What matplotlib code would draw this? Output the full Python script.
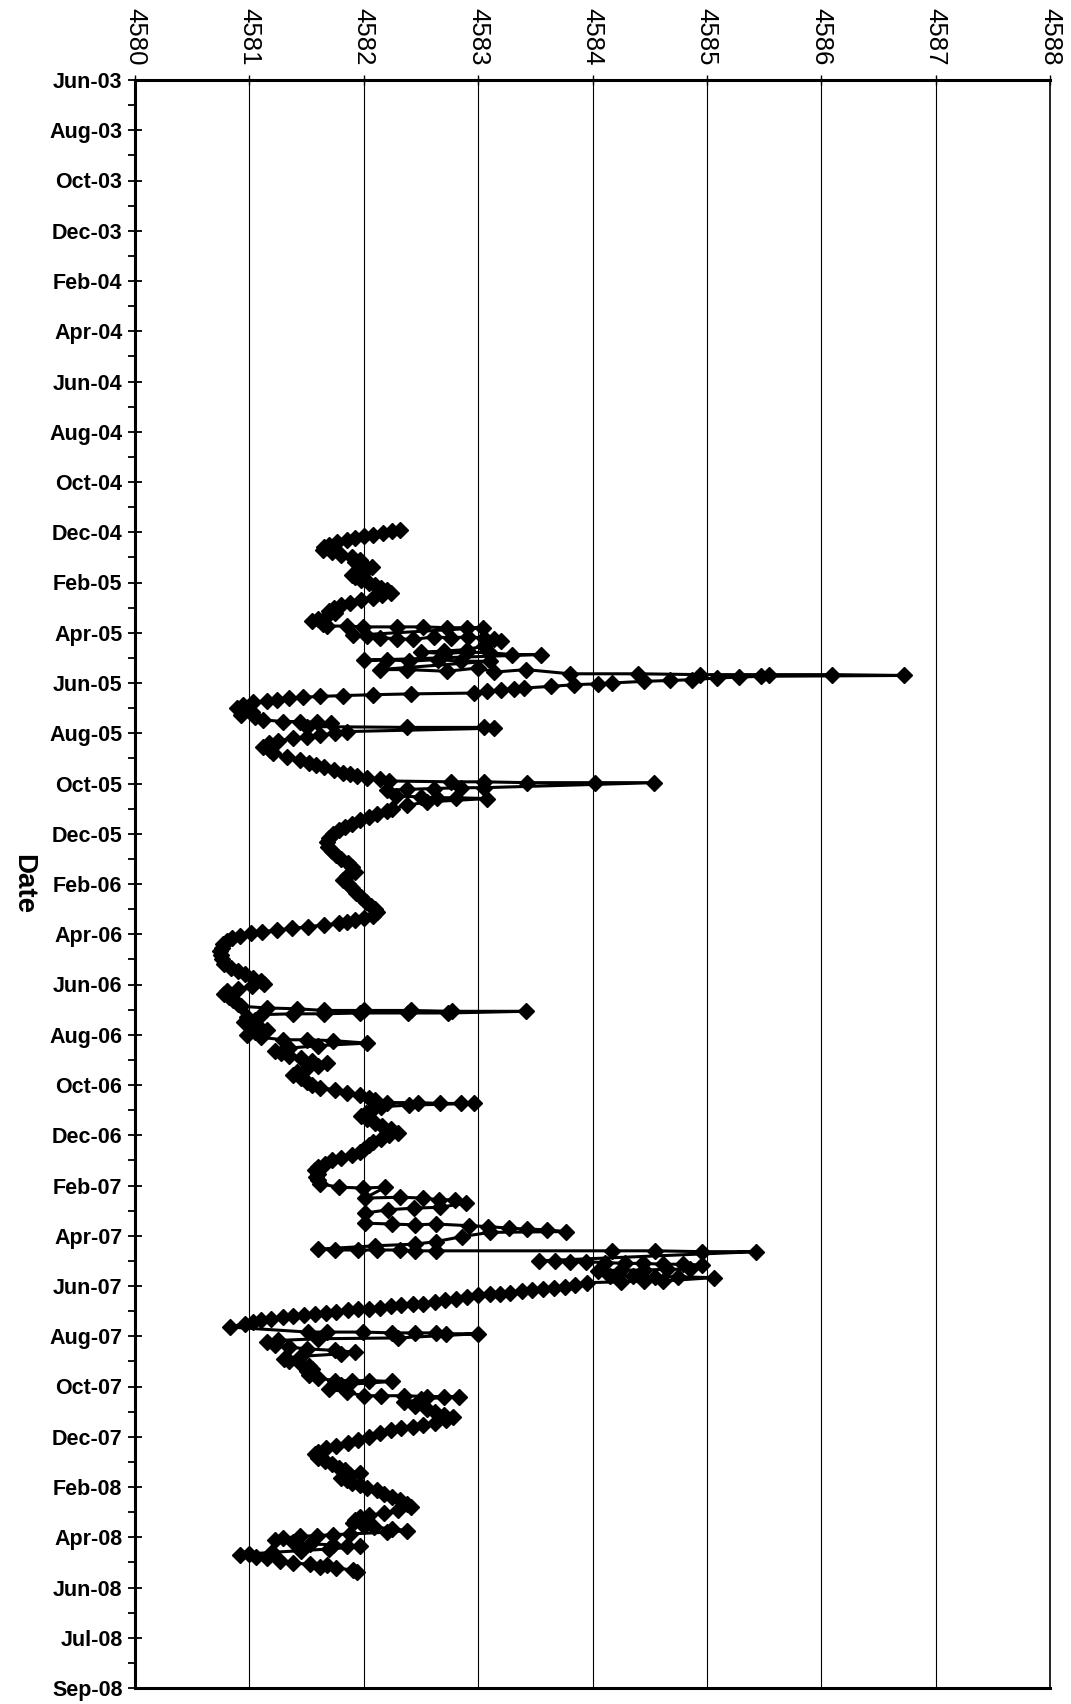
import matplotlib
matplotlib.use("Agg")
import matplotlib.pyplot as plt
import matplotlib.dates as mdates
import numpy as np
import pandas as pd

plt.rcParams['font.family'] = ['Liberation Sans', 'DejaVu Sans']

# readings as (Excel serial date, level)
winter_2005 = [
    (38337, 4582.32), (38339, 4582.25), (38341, 4582.17), (38343, 4582.08), (38345, 4582.00),
    (38347, 4581.92), (38349, 4581.85), (38352, 4581.77), (38355, 4581.70), (38358, 4581.65),
    (38361, 4581.64), (38364, 4581.72), (38367, 4581.80), (38370, 4581.90), (38373, 4581.97),
    (38376, 4581.92), (38379, 4582.00), (38382, 4582.07), (38385, 4582.02), (38388, 4581.96),
    (38391, 4581.90), (38394, 4581.92), (38397, 4581.98), (38400, 4582.05), (38403, 4582.10),
    (38406, 4582.15), (38409, 4582.20), (38412, 4582.24), (38415, 4582.16), (38418, 4582.08),
    (38421, 4581.98), (38424, 4581.88), (38427, 4581.80), (38430, 4581.74), (38434, 4581.70),
    (38437, 4581.75), (38440, 4581.68), (38443, 4581.60), (38446, 4581.55), (38449, 4581.64),
]

spring_2005 = [
    (38452, 4581.68), (38452, 4581.85), (38453, 4581.99), (38453, 4582.29), (38453, 4582.52),
    (38454, 4582.73), (38454, 4582.90), (38454, 4583.04),
    (38463, 4581.91), (38464, 4582.03), (38466, 4582.14), (38467, 4582.29), (38468, 4582.43),
    (38465, 4582.61), (38466, 4582.76), (38465, 4582.91), (38466, 4583.05), (38468, 4583.14),
    (38470, 4583.20),
    (38476, 4583.05), (38480, 4582.90), (38482, 4582.70), (38483, 4582.50), (38485, 4582.70),
    (38483, 4582.90), (38484, 4583.10), (38486, 4583.30), (38486, 4583.55),
    (38493, 4582.00), (38492, 4582.20), (38494, 4582.40), (38492, 4582.65), (38494, 4582.85),
    (38494, 4583.10),
    (38504, 4582.14), (38504, 4582.38), (38506, 4582.73), (38502, 4583.00), (38507, 4583.14),
    (38504, 4583.42),
    (38509, 4583.80), (38509, 4584.40), (38510, 4584.94), (38510, 4585.54), (38510, 4586.09),
    (38511, 4586.72),
    (38512, 4585.47), (38513, 4585.28), (38514, 4585.09), (38516, 4584.87), (38517, 4584.68),
    (38518, 4584.45), (38520, 4584.17), (38521, 4584.05), (38522, 4583.84), (38524, 4583.64),
    (38526, 4583.40), (38527, 4583.31), (38528, 4583.20), (38530, 4583.08), (38532, 4582.96),
    (38533, 4582.41), (38534, 4582.08), (38535, 4581.82), (38536, 4581.62), (38537, 4581.47),
    (38538, 4581.35), (38540, 4581.24), (38541, 4581.15), (38543, 4581.03), (38546, 4580.94),
    (38550, 4580.89),
]

summer_2005 = [
    (38552, 4580.95), (38555, 4581.02), (38558, 4580.93), (38561, 4581.05), (38564, 4581.12),
    (38566, 4581.29), (38566, 4581.44), (38567, 4581.59), (38568, 4581.71), (38572, 4581.50),
    (38573, 4582.38), (38573, 4583.05), (38574, 4583.14), (38578, 4581.85), (38580, 4581.75),
    (38582, 4581.62), (38584, 4581.50), (38586, 4581.38), (38589, 4581.25), (38592, 4581.17),
    (38596, 4581.12), (38600, 4581.18), (38604, 4581.21), (38608, 4581.33), (38612, 4581.44),
    (38616, 4581.52), (38618, 4581.58), (38620, 4581.65), (38624, 4581.74), (38627, 4581.82),
    (38629, 4581.88), (38631, 4581.94), (38633, 4582.03), (38635, 4582.14), (38637, 4582.22),
    (38638, 4582.76), (38638, 4583.05), (38639, 4583.43), (38639, 4584.02), (38639, 4584.54),
    (38645, 4583.05), (38645, 4582.85), (38646, 4582.61), (38647, 4582.38), (38648, 4582.20),
    (38655, 4582.28), (38656, 4582.50), (38657, 4582.64), (38657, 4582.81), (38658, 4583.08),
    (38662, 4582.55), (38666, 4582.38), (38670, 4582.25),
]

winter_2006 = [
    (38673, 4582.20), (38676, 4582.12), (38680, 4582.05), (38684, 4581.97), (38688, 4581.90),
    (38692, 4581.84), (38696, 4581.78), (38700, 4581.73), (38705, 4581.70), (38710, 4581.68),
    (38716, 4581.69), (38720, 4581.72), (38725, 4581.76), (38730, 4581.80), (38735, 4581.86),
    (38740, 4581.90), (38746, 4581.92), (38750, 4581.85), (38755, 4581.82), (38760, 4581.86),
    (38765, 4581.90), (38771, 4581.93), (38776, 4581.98), (38781, 4582.02), (38786, 4582.06),
    (38790, 4582.10), (38794, 4582.12), (38798, 4582.08), (38801, 4582.00), (38803, 4581.92),
    (38805, 4581.85), (38807, 4581.78), (38809, 4581.65), (38811, 4581.51), (38813, 4581.37),
    (38815, 4581.24), (38817, 4581.11), (38819, 4581.01), (38822, 4580.92), (38825, 4580.85),
    (38828, 4580.80), (38832, 4580.77), (38836, 4580.76), (38840, 4580.74), (38845, 4580.75),
    (38850, 4580.76), (38855, 4580.78), (38860, 4580.84), (38864, 4580.90), (38868, 4580.96),
    (38872, 4581.03), (38876, 4581.10), (38879, 4581.13), (38882, 4581.02), (38885, 4580.90),
    (38888, 4580.80), (38891, 4580.78), (38895, 4580.82), (38899, 4580.86), (38903, 4580.90),
    (38906, 4580.93),
]

july_2006 = [
    (38908, 4581.15), (38909, 4581.42), (38911, 4581.65), (38911, 4582.00), (38911, 4582.41),
    (38912, 4582.77), (38912, 4583.42), (38914, 4582.74), (38914, 4582.39), (38914, 4581.97),
    (38915, 4581.65), (38915, 4581.38), (38916, 4581.10),
]

autumn_2006 = [
    (38919, 4580.98), (38922, 4581.05), (38925, 4580.95), (38928, 4581.00), (38931, 4581.08),
    (38934, 4581.15), (38937, 4581.05), (38940, 4580.98), (38943, 4581.10), (38946, 4581.29),
    (38946, 4581.50), (38947, 4581.73), (38950, 4582.03), (38953, 4581.60), (38956, 4581.35),
    (38959, 4581.22), (38962, 4581.28), (38965, 4581.35), (38968, 4581.45), (38971, 4581.55),
    (38974, 4581.68), (38977, 4581.60), (38980, 4581.50), (38984, 4581.42), (38988, 4581.38),
    (38992, 4581.45), (38996, 4581.50), (39000, 4581.55), (39003, 4581.62), (39006, 4581.75),
    (39009, 4581.85), (39012, 4581.97), (39015, 4582.05), (39018, 4582.10), (39021, 4582.20),
    (39021, 4582.47), (39022, 4582.67), (39022, 4582.85), (39022, 4582.96), (39024, 4582.40),
    (39026, 4582.15), (39029, 4582.08), (39033, 4582.02), (39037, 4581.98), (39041, 4582.03),
    (39045, 4582.10), (39049, 4582.16), (39053, 4582.24), (39057, 4582.30), (39060, 4582.22),
    (39064, 4582.15), (39068, 4582.08), (39072, 4582.05), (39076, 4582.00), (39080, 4581.97),
    (39084, 4581.90), (39087, 4581.80), (39090, 4581.72), (39094, 4581.66), (39098, 4581.60),
    (39102, 4581.57), (39106, 4581.60), (39110, 4581.58), (39114, 4581.60), (39118, 4581.62),
]

spring_2007 = [
    (39122, 4581.78), (39123, 4581.99), (39122, 4582.19), (39135, 4582.01), (39134, 4582.32),
    (39135, 4582.52), (39137, 4582.66), (39137, 4582.80), (39141, 4582.89), (39146, 4582.67),
    (39147, 4582.44), (39149, 4582.21), (39153, 4582.01), (39165, 4582.01), (39166, 4582.25),
    (39167, 4582.45), (39166, 4582.63), (39168, 4582.92), (39169, 4583.09), (39171, 4583.27),
    (39172, 4583.43), (39173, 4583.60), (39175, 4583.77), (39176, 4583.10), (39181, 4582.86),
    (39187, 4582.63), (39190, 4582.45), (39192, 4582.10), (39196, 4581.60), (39197, 4581.75),
    (39197, 4581.95), (39197, 4582.12), (39197, 4582.32), (39198, 4582.45), (39198, 4582.63),
    (39198, 4584.17), (39198, 4584.55), (39199, 4584.96), (39199, 4585.43),
]

summer_2007 = [
    (39210, 4583.53), (39210, 4583.67), (39211, 4583.80), (39211, 4583.94), (39212, 4584.11),
    (39213, 4584.28), (39213, 4584.44), (39214, 4584.62), (39214, 4584.79), (39215, 4584.96),
    (39220, 4584.85), (39220, 4584.65), (39221, 4584.45), (39221, 4584.25), (39222, 4584.05),
    (39228, 4584.15), (39228, 4584.35), (39229, 4584.55), (39229, 4584.75), (39230, 4585.06),
    (39234, 4584.62), (39234, 4584.45), (39235, 4584.25), (39236, 4583.95), (39239, 4583.85),
    (39241, 4583.76), (39242, 4583.66), (39243, 4583.57), (39245, 4583.47), (39246, 4583.38),
    (39248, 4583.28), (39249, 4583.19), (39250, 4583.10), (39251, 4583.00), (39253, 4582.90),
    (39255, 4582.81), (39257, 4582.71), (39259, 4582.62), (39261, 4582.52), (39262, 4582.43),
    (39263, 4582.33), (39264, 4582.24), (39266, 4582.14), (39267, 4582.05), (39268, 4581.95),
    (39269, 4581.86), (39271, 4581.76), (39272, 4581.67), (39274, 4581.57), (39275, 4581.48),
    (39276, 4581.38), (39277, 4581.29), (39279, 4581.19), (39281, 4581.10), (39283, 4581.03),
    (39285, 4580.96), (39289, 4580.83),
]

autumn_2007 = [
    (39295, 4581.51), (39295, 4581.68), (39295, 4581.99), (39296, 4582.25), (39296, 4582.45),
    (39296, 4582.63), (39297, 4582.72), (39297, 4583.00), (39302, 4582.30), (39303, 4581.60),
    (39305, 4581.25), (39307, 4581.15), (39310, 4581.22), (39313, 4581.35), (39315, 4581.50),
    (39317, 4581.75), (39319, 4581.92), (39321, 4581.80), (39324, 4581.45), (39327, 4581.30),
    (39330, 4581.35), (39333, 4581.45), (39336, 4581.52), (39339, 4581.55), (39342, 4581.50),
    (39346, 4581.52), (39350, 4581.60), (39353, 4581.75), (39353, 4581.90), (39353, 4582.05),
    (39354, 4582.25), (39358, 4581.80), (39363, 4581.70), (39367, 4581.85), (39371, 4582.00),
    (39371, 4582.15), (39371, 4582.35), (39372, 4582.55), (39372, 4582.70), (39372, 4582.83),
    (39375, 4582.50), (39379, 4582.35), (39383, 4582.45), (39387, 4582.55), (39391, 4582.62),
    (39394, 4582.70), (39397, 4582.78), (39400, 4582.72), (39403, 4582.62), (39406, 4582.52),
    (39408, 4582.43), (39410, 4582.33), (39412, 4582.24), (39416, 4582.14), (39420, 4582.05),
    (39424, 4581.95), (39428, 4581.86), (39431, 4581.76), (39434, 4581.67), (39438, 4581.60),
    (39441, 4581.57),
]

spring_2008 = [
    (39445, 4581.60), (39449, 4581.66), (39453, 4581.72), (39457, 4581.78), (39460, 4581.84),
    (39463, 4581.97), (39466, 4581.88), (39469, 4581.80), (39472, 4581.85), (39475, 4581.90),
    (39478, 4581.97), (39481, 4582.03), (39484, 4582.12), (39488, 4582.18), (39492, 4582.25),
    (39496, 4582.32), (39500, 4582.38), (39504, 4582.41), (39508, 4582.30), (39511, 4582.18),
    (39514, 4582.05), (39516, 4581.97), (39519, 4581.92), (39523, 4581.91), (39526, 4582.00),
    (39528, 4582.09), (39530, 4582.25), (39532, 4582.38), (39534, 4582.20), (39536, 4581.88),
    (39537, 4581.73), (39538, 4581.59), (39539, 4581.44), (39541, 4581.29), (39543, 4581.22),
    (39546, 4581.38), (39548, 4581.53), (39549, 4581.73), (39550, 4581.85), (39551, 4581.97),
    (39554, 4581.70), (39556, 4581.45), (39558, 4581.20), (39560, 4581.00), (39561, 4580.92),
    (39563, 4581.06), (39565, 4581.15), (39568, 4581.27), (39571, 4581.38), (39572, 4581.53),
    (39573, 4581.68), (39575, 4581.62), (39577, 4581.76), (39579, 4581.91), (39581, 4581.94),
]

level_ticks = list(range(4580, 4589))
axis_start = 37800      # Excel serial of the first date tick
axis_step = 60          # days between labelled ticks
n_steps = 32

blocks = [winter_2005, spring_2005, summer_2005, winter_2006, july_2006,
          autumn_2006, spring_2007, summer_2007, autumn_2007, spring_2008]
serials = [d for b in blocks for d, v in b]
levels = [v for b in blocks for d, v in b]


def excel_to_num(s):
    return mdates.date2num(pd.to_datetime(np.asarray(s), unit='D', origin='1899-12-30').to_pydatetime())


date_nums = excel_to_num(serials)

fig = plt.figure(figsize=(10.71, 17.04), dpi=100)
ax = fig.add_axes([135 / 1071, 16 / 1704, 915 / 1071, 1608 / 1704])

ax.plot(levels, date_nums, color='black', lw=2.2, marker='D', ms=8.6,
        mfc='black', mec='black', zorder=3)

# date axis (top to bottom)
major_serial = [axis_start + axis_step * k for k in range(n_steps + 1)]
minor_serial = [axis_start + axis_step * k + axis_step // 2 for k in range(n_steps)]
major = excel_to_num(major_serial)
minor = excel_to_num(minor_serial)
major_lbl = [mdates.num2date(m).strftime('%b-%y') for m in major]
ax.set_yticks(major, labels=major_lbl, fontweight='bold')
ax.set_yticks(minor, minor=True)
ax.set_ylim(major[-1], major[0])

# level axis on top
ax.xaxis.tick_top()
ax.set_xlim(level_ticks[0], level_ticks[-1])
ax.set_xticks(level_ticks, labels=[str(t) for t in level_ticks])

ax.tick_params(axis='x', which='major', direction='inout', length=7, width=1,
               pad=7, labelsize=18.5, labelrotation=-90)
ax.tick_params(axis='y', which='major', direction='inout', length=10, width=1.3,
               pad=4, labelsize=15.5)
ax.tick_params(axis='y', which='minor', direction='out', length=5, width=1.3)

ax.grid(axis='x', which='major', color='black', lw=0.8)

for side in ['top', 'left', 'bottom']:
    ax.spines[side].set_linewidth(2.2)
ax.spines['right'].set_linewidth(1.2)

fig.text(23 / 1071, 1 - 884 / 1704, 'Date', rotation=-90, ha='center', va='center',
         fontsize=20, fontweight='bold')

fig.savefig('out.png', dpi=100)
